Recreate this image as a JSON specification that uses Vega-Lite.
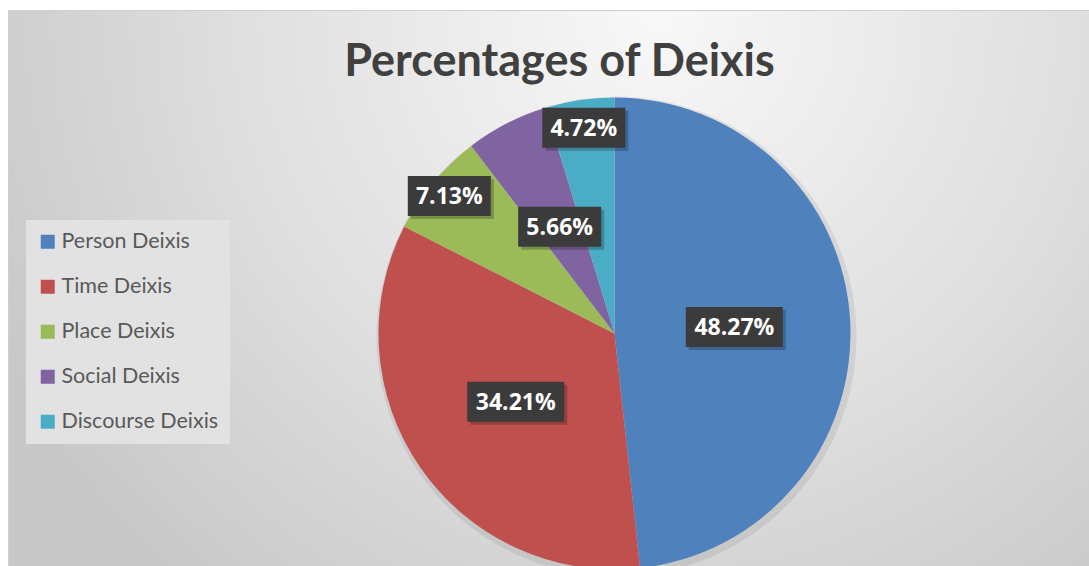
{
  "$schema": "https://vega.github.io/schema/vega-lite/v6.json",
  "autosize": "none",
  "width": 1081,
  "height": 556,
  "padding": {"left": 8, "top": 10, "right": 0, "bottom": 0},
  "background": "white",
  "config": {
    "view": {
      "stroke": "#cfcfcf",
      "fill": {
        "gradient": "radial",
        "x1": 0.6, "y1": 0.25, "r1": 0,
        "x2": 0.6, "y2": 0.25, "r2": 0.68,
        "stops": [
          {"offset": 0, "color": "#f8f8f8"},
          {"offset": 0.55, "color": "#e0e0e0"},
          {"offset": 1, "color": "#c8c8c8"}
        ]
      }
    }
  },
  "title": {
    "text": "Percentages of Deixis",
    "font": "Lato",
    "fontSize": 45,
    "fontWeight": "bold",
    "color": "#404040",
    "anchor": "middle",
    "baseline": "alphabetic",
    "offset": -67,
    "dx": 11,
    "dy": 44
  },
  "data": {
    "values": [
      {"cat": "Person Deixis", "pct": 48.27, "idx": 1},
      {"cat": "Time Deixis", "pct": 34.21, "idx": 2},
      {"cat": "Place Deixis", "pct": 7.13, "idx": 3},
      {"cat": "Social Deixis", "pct": 5.66, "idx": 4},
      {"cat": "Discourse Deixis", "pct": 4.72, "idx": 5}
    ]
  },
  "transform": [
    {"window": [{"op": "sum", "field": "pct", "as": "cum"}], "sort": [{"field": "idx"}]},
    {"joinaggregate": [{"op": "sum", "field": "pct", "as": "tot"}]},
    {"calculate": "2*PI*(datum.cum - datum.pct/2)/datum.tot", "as": "mid"},
    {"calculate": "datum.cat == 'Place Deixis' ? 215 : (datum.cat == 'Discourse Deixis' ? 208 : 120)", "as": "lr"},
    {"calculate": "datum.lr*sin(datum.mid)", "as": "lx"},
    {"calculate": "datum.lr*cos(datum.mid)", "as": "ly"},
    {"calculate": "format(datum.pct, '.2f') + '%'", "as": "lab"},
    {"calculate": "length(datum.lab)", "as": "len"}
  ],
  "layer": [
    {
      "mark": {"type": "arc", "outerRadius": 240, "xOffset": 68, "yOffset": 48.5, "color": "#000000", "opacity": 0.07},
      "encoding": {
        "theta": {"field": "pct", "type": "quantitative", "stack": true},
        "order": {"field": "idx", "type": "quantitative"}
      }
    },
    {
      "mark": {"type": "arc", "outerRadius": 236, "xOffset": 66, "yOffset": 45.5},
      "encoding": {
        "theta": {"field": "pct", "type": "quantitative", "stack": true},
        "order": {"field": "idx", "type": "quantitative"},
        "color": {
          "field": "cat",
          "type": "nominal",
          "sort": ["Person Deixis", "Time Deixis", "Place Deixis", "Social Deixis", "Discourse Deixis"],
          "scale": {
            "domain": ["Person Deixis", "Time Deixis", "Place Deixis", "Social Deixis", "Discourse Deixis"],
            "range": ["#4f81bd", "#c0504d", "#9bbb59", "#8064a2", "#4bacc6"]
          },
          "legend": {
            "orient": "none",
            "legendX": 18,
            "legendY": 210,
            "title": null,
            "symbolType": "square",
            "symbolSize": 196,
            "symbolStrokeWidth": 0,
            "labelFont": "Lato",
            "labelFontSize": 21.5,
            "labelColor": "#595959",
            "labelOffset": 3,
            "labelLimit": 300,
            "rowPadding": 22,
            "padding": 11,
            "fillColor": "#e2e2e2"
          }
        }
      }
    },
    {
      "mark": {"type": "point", "filled": true, "color": "#000000", "opacity": 0.22, "xOffset": 69, "yOffset": 48.5},
      "encoding": {
        "x": {"field": "lx", "type": "quantitative", "scale": {"domain": [-540.5, 540.5], "nice": false, "zero": false}, "axis": null},
        "y": {"field": "ly", "type": "quantitative", "scale": {"domain": [-278, 278], "nice": false, "zero": false}, "axis": null},
        "size": {"field": "len", "type": "quantitative", "scale": {"domain": [5, 6], "range": [6889, 9409], "zero": false}, "legend": null},
        "shape": {"field": "len", "type": "nominal", "scale": {"domain": [5, 6], "range": ["M-1,-0.482H1V0.482H-1Z", "M-1,-0.412H1V0.412H-1Z"]}, "legend": null}
      }
    },
    {
      "mark": {"type": "point", "filled": true, "color": "#3b3b3b", "opacity": 1, "xOffset": 66, "yOffset": 45.5},
      "encoding": {
        "x": {"field": "lx", "type": "quantitative"},
        "y": {"field": "ly", "type": "quantitative"},
        "size": {"field": "len", "type": "quantitative"},
        "shape": {"field": "len", "type": "nominal"}
      }
    },
    {
      "mark": {"type": "text", "font": "Open Sans", "fontSize": 23, "fontWeight": "bold", "color": "#ffffff", "align": "center", "baseline": "middle", "xOffset": 66, "yOffset": 46.5},
      "encoding": {
        "x": {"field": "lx", "type": "quantitative"},
        "y": {"field": "ly", "type": "quantitative"},
        "text": {"field": "lab", "type": "nominal"}
      }
    }
  ]
}
